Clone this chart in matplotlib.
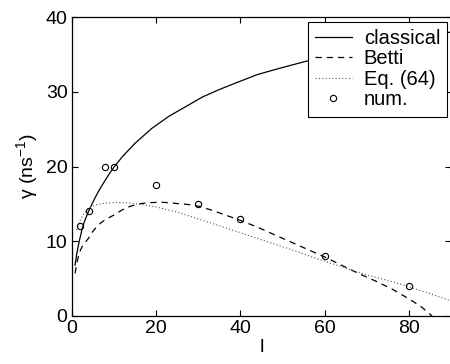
import matplotlib.pyplot as plt
import numpy as np

plt.rcParams['font.family'] = ['Liberation Sans', 'DejaVu Sans']
plt.rcParams['mathtext.fontset'] = 'custom'
plt.rcParams['mathtext.rm'] = 'Liberation Sans'

# classical growth rate
classical_l = [0.8, 1.2, 1.6, 2, 2.5, 3, 3.5, 4, 5, 6, 7, 8, 9, 10, 12, 15, 19, 23, 27,
               31, 35, 39, 44, 49, 55, 62, 70, 80, 90]
classical_g = [6.8, 8.3, 9.5, 10.5, 11.7, 12.6, 13.3, 14.0, 15.2, 16.3, 17.3, 18.2, 19.1, 19.9,
               21.3, 23.1, 25.1, 26.7, 28.0, 29.3, 30.3, 31.2, 32.3, 33.1, 34.0, 35.0, 36.0, 37.1, 38.0]

# Betti
betti_l = [0.8, 1.2, 1.6, 2, 2.5, 3, 4, 5, 6, 7, 8, 10, 12, 14, 16, 18, 20, 22, 24, 26, 28, 30,
           33, 36, 40, 44, 48, 52, 56, 60, 64, 68, 72, 76, 80, 83, 85.5]
betti_g = [5.7, 7.0, 8.0, 8.7, 9.3, 9.7, 10.4, 11.3, 12.0, 12.5, 12.9, 13.5, 14.2, 14.7, 15.0,
           15.15, 15.2, 15.2, 15.1, 15.0, 14.9, 14.7, 14.2, 13.6, 12.8, 11.9, 10.9, 9.9, 8.9,
           7.9, 6.8, 5.7, 4.7, 3.6, 2.3, 1.2, 0.0]

# Eq. (64)
eq64_l = [1.2, 1.6, 2, 2.5, 3, 4, 5, 6, 8, 11, 14, 17, 20, 25, 30, 36, 45, 52, 58, 64, 70, 76,
          80, 85, 90]
eq64_g = [11.5, 12.2, 12.8, 13.3, 13.8, 14.4, 14.7, 14.9, 15.1, 15.2, 15.1, 14.9, 14.6, 13.9,
          13.0, 11.9, 10.2, 8.9, 7.7, 6.6, 5.5, 4.6, 3.9, 3.0, 2.0]

# numerical results
num_l = [2, 4, 8, 10, 20, 30, 40, 60, 80]
num_g = [12, 14, 20, 20, 17.5, 15, 13, 8, 4]

fig = plt.figure(figsize=(4.5, 3.64), dpi=100, facecolor="white")
ax = fig.add_axes([0.1593, 0.132, 0.843, 0.821])

ax.plot(classical_l, classical_g, color="black", lw=0.9, label="classical")
ax.plot(betti_l, betti_g, color="black", lw=0.9, linestyle=(0, (5, 4)), label="Betti")
ax.plot(eq64_l, eq64_g, color="#555555", lw=0.8, linestyle=(0, (1, 2)), label="Eq. (64)")
ax.plot(num_l, num_g, linestyle="none", marker="o", markersize=4.5, markerfacecolor="none",
        markeredgecolor="black", markeredgewidth=0.8, label="num.")

ax.set_xlim(0, 90)
ax.set_ylim(0, 40)
ax.set_xticks([0, 20, 40, 60, 80])
ax.set_yticks([0, 10, 20, 30, 40])
ax.tick_params(direction="in", length=4, width=0.8, labelsize=14, top=True, right=True, pad=3)
for s in ax.spines.values():
  s.set_linewidth(0.9)

ax.set_xlabel("l", fontsize=14, labelpad=1)
ax.set_ylabel("\u03b3 (ns$^{-1}$)", fontsize=14, labelpad=3)

leg = ax.legend(loc="upper right", bbox_to_anchor=(0.99, 0.985), fontsize=14.5, frameon=True,
                fancybox=False, edgecolor="black", framealpha=1, borderpad=0.35,
                labelspacing=0.08, handlelength=1.8, handletextpad=0.6, borderaxespad=0)
leg.get_frame().set_linewidth(0.8)

fig.savefig("out.png", dpi=100, facecolor="white")
